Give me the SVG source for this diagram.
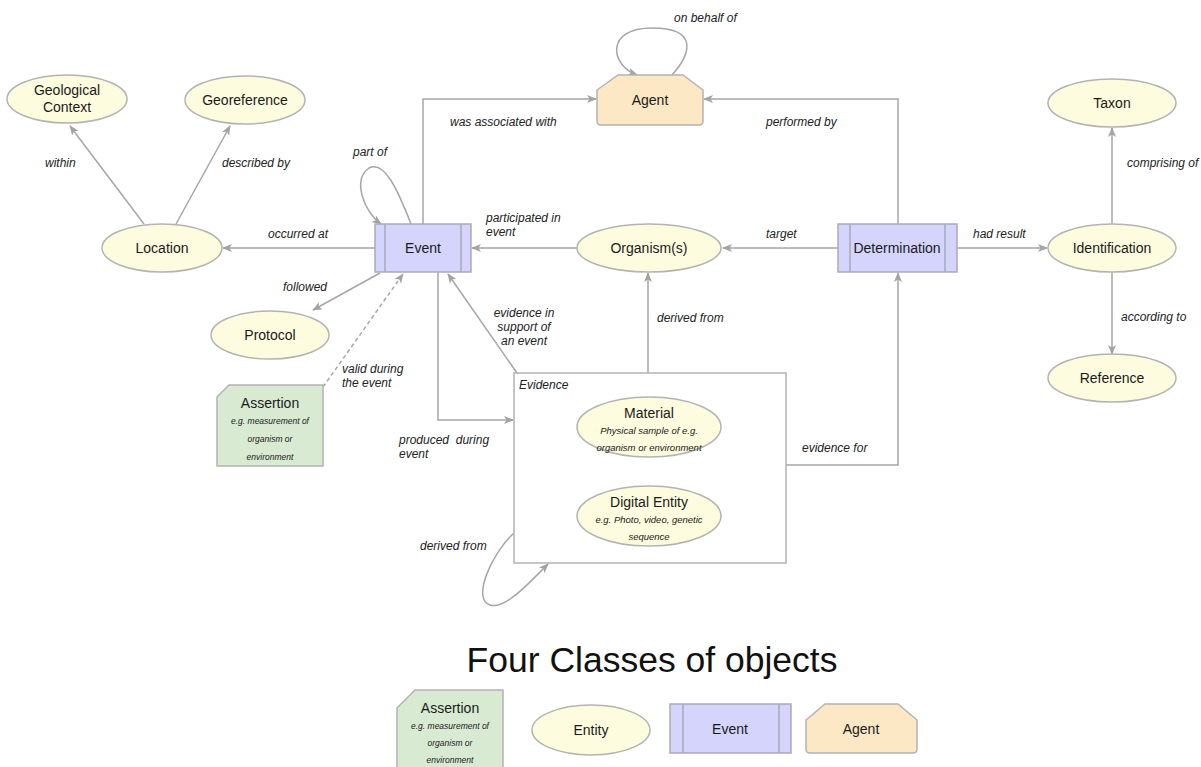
<svg xmlns="http://www.w3.org/2000/svg" width="1201" height="767" viewBox="0 0 1201 767">
<defs>
<marker id="arr" markerWidth="10" markerHeight="10" refX="9" refY="5" orient="auto" markerUnits="userSpaceOnUse">
<path d="M0,1 L10,5 L0,9 L2.5,5 Z" fill="#a3a3a3"/>
</marker>
<style>
.ent{fill:#fdfcde;stroke:#b3b3b3;stroke-width:1.5}
.evt{fill:#d4d4fc;stroke:#a9a9bd;stroke-width:1.5}
.agt{fill:#fce8c4;stroke:#b3b3b3;stroke-width:1.5}
.ast{fill:#d9ead3;stroke:#b3b3b3;stroke-width:1.5}
.box{fill:#ffffff;stroke:#b3b3b3;stroke-width:1.5}
.c{fill:none;stroke:#a6a6a6;stroke-width:1.5;marker-end:url(#arr)}
.dash{stroke-dasharray:4 3}
.n{font-family:"Liberation Sans",Arial,sans-serif;font-size:14px;fill:#1a1a1a;text-anchor:middle}
.s{font-family:"Liberation Sans",Arial,sans-serif;font-size:9.5px;font-style:italic;fill:#1a1a1a;text-anchor:middle}
.l{font-family:"Liberation Sans",Arial,sans-serif;font-size:12px;font-style:italic;fill:#222}
.lm{text-anchor:middle}
.t{font-family:"Liberation Sans",Arial,sans-serif;font-size:35.5px;fill:#111;text-anchor:middle}
</style>
</defs>
<rect width="1201" height="767" fill="#ffffff"/>

<g id="connectors">
<path class="c" d="M144,224 L70,126"/>
<path class="c" d="M176,224 L230,126"/>
<path class="c" d="M375,248 L223,248"/>
<path class="c" d="M411,224 C397,188 384,160 369,168 C352,180 364,212 381,224"/>
<path class="c" d="M423,224 L423,99 L596,99"/>
<path class="c" d="M672,75 C690,55 700,28 652,28 C605,28 610,65 637,75"/>
<path class="c" d="M898,224 L898,99 L704,99"/>
<path class="c" d="M838,248 L723,248"/>
<path class="c" d="M577,248 L472,248"/>
<path class="c" d="M957,248 L1047,248"/>
<path class="c" d="M1112,224 L1112,128"/>
<path class="c" d="M1112,272 L1112,354"/>
<path class="c" d="M380,273 L313,310"/>
<path class="c dash" d="M323,387 L403,274"/>
<path class="c" d="M517,373 L448,274"/>
<path class="c" d="M438,272 L438,420 L513,420"/>
<path class="c" d="M648,373 L648,273"/>
<path class="c" d="M786,465 L898,465 L898,273"/>
<path class="c" d="M514,533 C490,555 472,600 490,605 C505,610 530,582 548,564"/>
</g>

<g id="edge-labels">
<text class="l" x="674" y="22">on behalf of</text>
<text class="l" x="450" y="126">was associated with</text>
<text class="l" x="766" y="126">performed by</text>
<text class="l" x="45" y="167">within</text>
<text class="l" x="222" y="167">described by</text>
<text class="l" x="353" y="156">part of</text>
<text class="l" x="268" y="238">occurred at</text>
<text class="l" x="486" y="222">participated in</text>
<text class="l" x="486" y="236">event</text>
<text class="l" x="766" y="238">target</text>
<text class="l" x="973" y="238">had result</text>
<text class="l" x="1127" y="167">comprising of</text>
<text class="l" x="1121" y="321">according to</text>
<text class="l" x="283" y="291">followed</text>
<text class="l" x="657" y="322">derived from</text>
<text class="l lm" x="524" y="317">evidence in</text>
<text class="l lm" x="524" y="331">support of</text>
<text class="l lm" x="524" y="345">an event</text>
<text class="l" x="342" y="373">valid during</text>
<text class="l" x="342" y="387">the event</text>
<text class="l" x="399" y="444" xml:space="preserve">produced  during</text>
<text class="l" x="399" y="458">event</text>
<text class="l" x="802" y="452">evidence for</text>
<text class="l" x="420" y="550">derived from</text>
</g>

<g id="geological-context">
<ellipse class="ent" cx="67" cy="99" rx="60" ry="24"/>
<text class="n" x="67" y="95">Geological</text>
<text class="n" x="67" y="112">Context</text>
</g>
<g id="georeference">
<ellipse class="ent" cx="245" cy="100" rx="60" ry="24"/>
<text class="n" x="245" y="105">Georeference</text>
</g>
<g id="location">
<ellipse class="ent" cx="162" cy="248" rx="60" ry="24"/>
<text class="n" x="162" y="253">Location</text>
</g>
<g id="event">
<rect class="evt" x="375" y="224" width="96" height="48"/>
<line class="evt" x1="385" y1="224" x2="385" y2="272"/>
<line class="evt" x1="461" y1="224" x2="461" y2="272"/>
<text class="n" x="423" y="253">Event</text>
</g>
<g id="agent">
<path class="agt" d="M597,90 L618,75 L683,75 L703,90 L703,121 Q703,125 699,125 L601,125 Q597,125 597,121 Z"/>
<text class="n" x="650" y="105">Agent</text>
</g>
<g id="organism">
<ellipse class="ent" cx="649" cy="248" rx="72" ry="24"/>
<text class="n" x="649" y="253">Organism(s)</text>
</g>
<g id="determination">
<rect class="evt" x="838" y="224" width="119" height="48"/>
<line class="evt" x1="850" y1="224" x2="850" y2="272"/>
<line class="evt" x1="945" y1="224" x2="945" y2="272"/>
<text class="n" x="897" y="253">Determination</text>
</g>
<g id="identification">
<ellipse class="ent" cx="1112" cy="248" rx="64" ry="24"/>
<text class="n" x="1112" y="253">Identification</text>
</g>
<g id="taxon">
<ellipse class="ent" cx="1112" cy="103" rx="64" ry="24"/>
<text class="n" x="1112" y="108">Taxon</text>
</g>
<g id="reference">
<ellipse class="ent" cx="1112" cy="378" rx="64" ry="24"/>
<text class="n" x="1112" y="383">Reference</text>
</g>
<g id="protocol">
<ellipse class="ent" cx="270" cy="335" rx="59" ry="24"/>
<text class="n" x="270" y="340">Protocol</text>
</g>
<g id="assertion">
<path class="ast" d="M217,397 L229,385 L323,385 L323,466 L217,466 Z"/>
<text class="n" x="270" y="408">Assertion</text>
<text class="s" x="270" y="424" style="font-size:8.5px">e.g. measurement of</text>
<text class="s" x="270" y="442" style="font-size:8.5px">organism or</text>
<text class="s" x="270" y="460" style="font-size:8.5px">environment</text>
</g>
<g id="evidence">
<rect class="box" x="514" y="373" width="272" height="190"/>
<text class="l" x="519" y="389">Evidence</text>
</g>
<g id="material">
<ellipse class="ent" cx="649" cy="427" rx="72" ry="30"/>
<text class="n" x="649" y="418">Material</text>
<text class="s" x="649" y="434">Physical sample of e.g.</text>
<text class="s" x="649" y="451">organism or environment</text>
</g>
<g id="digital-entity">
<ellipse class="ent" cx="649" cy="516" rx="72" ry="30"/>
<text class="n" x="649" y="507">Digital Entity</text>
<text class="s" x="649" y="523">e.g. Photo, video, genetic</text>
<text class="s" x="649" y="540">sequence</text>
</g>

<g id="legend">
<text class="t" x="652" y="672">Four Classes of objects</text>
<g id="legend-assertion">
<path class="ast" d="M397,708 L415,690 L503,690 L503,770 L397,770 Z"/>
<text class="n" x="450" y="713">Assertion</text>
<text class="s" x="450" y="729" style="font-size:8.5px">e.g. measurement of</text>
<text class="s" x="450" y="746" style="font-size:8.5px">organism or</text>
<text class="s" x="450" y="763" style="font-size:8.5px">environment</text>
</g>
<g id="legend-entity">
<ellipse class="ent" cx="591" cy="730" rx="59" ry="25"/>
<text class="n" x="591" y="735">Entity</text>
</g>
<g id="legend-event">
<rect class="evt" x="670" y="704" width="121" height="49"/>
<line class="evt" x1="683" y1="704" x2="683" y2="753"/>
<line class="evt" x1="779" y1="704" x2="779" y2="753"/>
<text class="n" x="730" y="734">Event</text>
</g>
<g id="legend-agent">
<path class="agt" d="M806,720 L825,704 L898,704 L917,720 L917,749 Q917,753 913,753 L810,753 Q806,753 806,749 Z"/>
<text class="n" x="861" y="734">Agent</text>
</g>
</g>
</svg>
